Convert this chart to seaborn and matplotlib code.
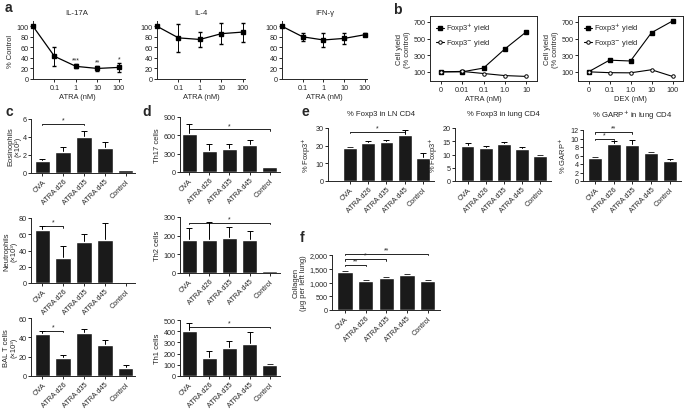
import matplotlib
matplotlib.use("Agg")
import matplotlib.pyplot as plt
import seaborn as sns

# ---- data ----
a_doses = ['0', '0.1', '1', '10', '100']
il17_mean = [100, 43, 24, 20, 22]
il17_err = [0, 18, 4, 5, 8]
il17_stars = ['', '', '***', '**', '*']
il4_mean = [100, 78, 75, 86, 89]
il4_err = [0, 27, 15, 20, 18]
ifng_mean = [100, 80, 74, 77, 84]
ifng_err = [0, 8, 13, 10, 3]

atra_doses = ['0', '0.01', '0.1', '1.0', '10']
atra_pos = [100, 100, 145, 375, 580]
atra_neg = [100, 105, 80, 55, 45]
dex_doses = ['0', '0.1', '1.0', '10', '100']
dex_pos = [100, 240, 230, 570, 710]
dex_neg = [100, 90, 88, 125, 45]

groups = ['OVA', 'ATRA d26', 'ATRA d35', 'ATRA d45', 'Control']
eos_mean = [1.35, 2.3, 3.95, 2.75, 0.3]
eos_err = [0.2, 0.55, 0.75, 0.75, 0.05]
neu_mean = [65, 31, 50, 53, 1]
neu_err = [5, 15, 10, 21, 0.5]
bal_mean = [43, 19, 44, 32, 8]
bal_err = [4, 3, 5, 5, 3]
th17_mean = [630, 340, 380, 450, 75]
th17_err = [150, 120, 80, 80, 10]
th2_mean = [175, 175, 190, 178, 10]
th2_err = [65, 100, 55, 45, 3]
th1_mean = [405, 160, 250, 290, 100]
th1_err = [70, 65, 60, 100, 8]
lnfox_mean = [18.5, 21.5, 22.2, 26.3, 13]
lnfox_err = [1, 1, 1.2, 2.5, 2.8]
lungfox_mean = [13.2, 12.5, 13.8, 12.2, 9.5]
lungfox_err = [1, 0.8, 0.8, 0.6, 0.4]
garp_mean = [5.3, 8.6, 8.5, 6.6, 4.8]
garp_err = [0.3, 0.7, 1.2, 0.15, 0.4]
coll_mean = [1380, 1060, 1180, 1280, 1060]
coll_err = [40, 40, 20, 30, 30]

# brackets: (from, to, height, label)
eos_br = [(0, 2, 5.5, '*')]
neu_br = [(0, 1, 70, '*')]
bal_br = [(0, 1, 47, '*')]
th17_br = [(0, 4, 700, '*')]
th2_br = [(0, 4, 270, '*')]
th1_br = [(0, 4, 440, '*')]
lnfox_br = [(0, 3, 28, '*')]
garp_br = [(0, 1, 10, '*'), (0, 2, 11.5, '**')]
coll_br = [(0, 1, 1650, '**'), (0, 2, 1850, '*'), (0, 4, 2050, '**')]

# ---- style ----
sns.set_style('ticks')
plt.rcParams['font.family'] = ['Liberation Sans', 'DejaVu Sans']
plt.rcParams['axes.linewidth'] = 0.7
plt.rcParams['xtick.major.width'] = 0.7
plt.rcParams['ytick.major.width'] = 0.7
plt.rcParams['xtick.major.size'] = 2
plt.rcParams['ytick.major.size'] = 2
plt.rcParams['xtick.labelsize'] = 5.2
plt.rcParams['ytick.labelsize'] = 5.2
plt.rcParams['axes.labelsize'] = 5.4
plt.rcParams['xtick.major.pad'] = 1.5
plt.rcParams['ytick.major.pad'] = 1.2
plt.rcParams['axes.labelpad'] = 1.5

W, H = 685, 410
fig = plt.figure(figsize=(W / 100, H / 100), dpi=100)
BAR = '#1a1a1a'


def add_ax(x0, y0, x1, y1):
    return fig.add_axes([x0 / W, 1 - y1 / H, (x1 - x0) / W, (y1 - y0) / H])


def line_panel(box, mean, err, title, ylabel=None, stars=None):
    ax = add_ax(*box)
    x = list(range(len(a_doses)))
    ax.errorbar(x, mean, yerr=err, color='black', lw=0.9, marker='s', ms=2.2,
                capsize=1.5, elinewidth=0.7, clip_on=False, zorder=3)
    ax.set_xlim(0, 4.1)
    ax.set_ylim(0, 110)
    ax.set_yticks([0, 20, 40, 60, 80, 100])
    ax.set_xticks(x[1:])
    ax.set_xticklabels(a_doses[1:])
    ax.set_xlabel('ATRA (nM)')
    ax.set_title(title, fontsize=5.6, pad=5)
    if ylabel:
        ax.set_ylabel(ylabel)
    if stars:
        for i, s in enumerate(stars):
            if s:
                ax.text(i, mean[i] + err[i] + 1, s, ha='center', va='bottom', fontsize=5)
    sns.despine(ax=ax)
    return ax


def yield_panel(box, doses, pos, neg, xlabel):
    ax = add_ax(*box)
    x = list(range(len(doses)))
    ax.plot(x, pos, color='black', lw=0.8, marker='s', ms=2.2, label='Foxp3$^{+}$ yield')
    ax.plot(x, neg, color='black', lw=0.8, marker='o', ms=2.5, mfc='white',
            mew=0.7, label='Foxp3$^{-}$ yield')
    ax.set_xlim(-0.5, 4.5)
    ax.set_ylim(-10, 770)
    ax.set_yticks([100, 300, 500, 700])
    ax.set_xticks(x)
    ax.set_xticklabels(doses)
    ax.set_xlabel(xlabel)
    ax.set_ylabel('Cell yield\n(% control)')
    ax.legend(loc='upper left', frameon=False, fontsize=5.4, handlelength=1.0,
              handletextpad=0.4, borderaxespad=0.4, labelspacing=0.4)
    return ax


def bar_panel(box, mean, err, ylim, yticks, ylabel, xlim, brackets=(), title=None,
              yticklabels=None, labelpad=1.5):
    ax = add_ax(*box)
    sns.barplot(x=groups, y=mean, color=BAR, width=0.75, errorbar=None, ax=ax,
                saturation=1, zorder=2)
    x = list(range(len(groups)))
    ax.errorbar(x, mean, yerr=[[0] * len(err), err], fmt='none', ecolor='black',
                elinewidth=0.7, capsize=2, capthick=0.7, zorder=1)
    ax.set_xlim(*xlim)
    ax.set_ylim(*ylim)
    ax.set_yticks(yticks)
    if yticklabels:
        ax.set_yticklabels(yticklabels)
    ax.set_xticks(x)
    ax.set_xticklabels(groups, rotation=45, ha='right', rotation_mode='anchor')
    ax.set_ylabel(ylabel, labelpad=labelpad, linespacing=1.05)
    if title:
        ax.set_title(title, fontsize=5.6, pad=9)
    t = (ylim[1] - ylim[0]) * 0.03
    for i, j, y, lab in brackets:
        ax.plot([i, i, j, j], [y - t, y, y, y - t], color='black', lw=0.6, clip_on=False)
        ax.text((i + j) / 2, y + t * 0.2, lab, ha='center', va='bottom', fontsize=5)
    sns.despine(ax=ax)
    return ax


# ---- panel a ----
line_panel((33, 22, 121, 80), il17_mean, il17_err, 'IL-17A', '% Control', il17_stars)
line_panel((157, 22, 245, 80), il4_mean, il4_err, 'IL-4')
line_panel((282, 22, 367, 80), ifng_mean, ifng_err, 'IFN-γ')

# ---- panel b ----
yield_panel((430, 17, 537, 82), atra_doses, atra_pos, atra_neg, 'ATRA (nM)')
yield_panel((578, 17, 683, 82), dex_doses, dex_pos, dex_neg, 'DEX (nM)')

# ---- panel c ----
cx = (-0.55, 4.45)
bar_panel((31, 120, 135, 174), eos_mean, eos_err, (0, 6), [0, 2, 4, 6],
          'Eosinophils\n(×10²)', cx, eos_br, labelpad=0.8)
bar_panel((31, 219, 135, 284), neu_mean, neu_err, (0, 80), [0, 20, 40, 60, 80],
          'Neutrophils\n(×10³)', cx, neu_br, labelpad=0.8)
bar_panel((31, 319, 135, 377), bal_mean, bal_err, (0, 60), [0, 20, 40, 60],
          'BAL T cells\n(×10³)', cx, bal_br, labelpad=0.8)

# ---- panel d ----
dx = (-0.45, 4.5)
bar_panel((180, 118, 280, 173), th17_mean, th17_err, (0, 900), [0, 300, 600, 900],
          'Th17 cells', dx, th17_br)
bar_panel((180, 218, 280, 274), th2_mean, th2_err, (0, 300), [0, 100, 200, 300],
          'Th2 cells', dx, th2_br)
bar_panel((180, 321, 280, 377), th1_mean, th1_err, (0, 500), [0, 100, 200, 300, 400, 500],
          'Th1 cells', dx, th1_br)

# ---- panel e ----
bar_panel((328, 129, 434, 182), lnfox_mean, lnfox_err, (0, 30), [0, 10, 20, 30],
          '% Foxp3$^{+}$', (-1.2, 4.6), lnfox_br, title='% Foxp3 in LN CD4')
bar_panel((455, 129, 551, 182), lungfox_mean, lungfox_err, (0, 20), [0, 5, 10, 15, 20],
          '% Foxp3$^{+}$', (-0.7, 4.6), title='% Foxp3 in lung CD4')
bar_panel((583, 131, 681, 182), garp_mean, garp_err, (0, 12), [0, 2, 4, 6, 8, 10, 12],
          '% GARP$^{+}$', (-0.65, 4.6), garp_br, title='% GARP$^{+}$ in lung CD4')

# ---- panel f ----
bar_panel((332, 256, 440, 311), coll_mean, coll_err, (0, 2000), [0, 500, 1000, 1500, 2000],
          'Collagen\n(μg per left lung)', (-0.63, 4.6), coll_br,
          yticklabels=['0', '500', '1,000', '1,500', '2,000'])

# ---- panel letters ----
for lab, px, py in [('a', 5, 8), ('b', 393, 10), ('c', 5, 112), ('d', 142, 112),
                    ('e', 302, 112), ('f', 300, 238)]:
    fig.text(px / W, 1 - py / H, lab, fontsize=10, fontweight='bold', va='center', ha='left')

fig.savefig('out.png', dpi=100)
